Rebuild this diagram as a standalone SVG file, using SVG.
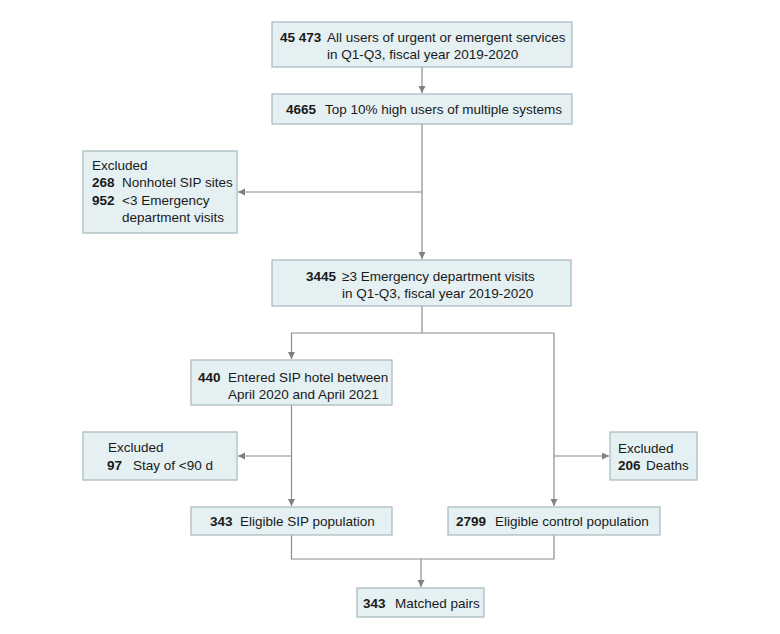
<svg xmlns="http://www.w3.org/2000/svg" width="780" height="634" viewBox="0 0 780 634">
<defs>
<marker id="ah" markerUnits="userSpaceOnUse" markerWidth="8" markerHeight="8" refX="7" refY="3.5" orient="auto">
<path d="M0,0 L7,3.5 L0,7 z" fill="#808080"/>
</marker>
<style>
.box{fill:#e4f0f2;stroke:#a6b8bc;stroke-width:1.2}
text{font-family:"Liberation Sans",Arial,sans-serif;font-size:13.5px;fill:#1a1a1a}
.b{font-weight:bold}
.ln{fill:none;stroke:#8c8c8c;stroke-width:1.2}
.ar{fill:none;stroke:#8c8c8c;stroke-width:1.2;marker-end:url(#ah)}
</style>
</defs>
<rect width="780" height="634" fill="#ffffff"/>
<g id="connectors">
<line class="ar" x1="422" y1="67" x2="422" y2="93"/>
<line class="ar" x1="422" y1="124" x2="422" y2="259"/>
<line class="ar" x1="422" y1="192" x2="238" y2="192"/>
<polyline class="ln" points="422,306 422,333"/>
<line class="ln" x1="291.5" y1="333" x2="554" y2="333"/>
<line class="ar" x1="291.5" y1="333" x2="291.5" y2="359"/>
<line class="ar" x1="554" y1="333" x2="554" y2="506"/>
<line class="ar" x1="291.5" y1="405" x2="291.5" y2="506"/>
<line class="ar" x1="291.5" y1="456" x2="238" y2="456"/>
<line class="ar" x1="554" y1="456" x2="609" y2="456"/>
<polyline class="ln" points="291.5,535 291.5,559 554,559 554,535"/>
<line class="ar" x1="421" y1="559" x2="421" y2="587"/>
</g>
<g id="n1">
<rect class="box" x="272" y="22" width="300" height="45"/>
<text x="280" y="42"><tspan class="b">45 473</tspan></text>
<text x="327" y="42">All users of urgent or emergent services</text>
<text x="327" y="59">in Q1-Q3, fiscal year 2019-2020</text>
</g>
<g id="n2">
<rect class="box" x="272" y="94" width="300" height="30"/>
<text x="286" y="114" class="b">4665</text>
<text x="325" y="114">Top 10% high users of multiple systems</text>
</g>
<g id="ex1">
<rect class="box" x="83" y="151" width="154" height="82"/>
<text x="92" y="170">Excluded</text>
<text x="92" y="187" class="b">268</text>
<text x="122" y="187">Nonhotel SIP sites</text>
<text x="92" y="205" class="b">952</text>
<text x="122" y="205">&lt;3 Emergency</text>
<text x="122" y="222">department visits</text>
</g>
<g id="n3">
<rect class="box" x="272" y="260" width="299" height="46"/>
<text x="306" y="281" class="b">3445</text>
<text x="342" y="281">≥3 Emergency department visits</text>
<text x="342" y="298">in Q1-Q3, fiscal year 2019-2020</text>
</g>
<g id="n4">
<rect class="box" x="191" y="360" width="201" height="45"/>
<text x="198" y="382" class="b">440</text>
<text x="228" y="382">Entered SIP hotel between</text>
<text x="228" y="399">April 2020 and April 2021</text>
</g>
<g id="ex2">
<rect class="box" x="83" y="432" width="154" height="48"/>
<text x="108" y="452">Excluded</text>
<text x="107" y="470" class="b">97</text>
<text x="133" y="470">Stay of &lt;90 d</text>
</g>
<g id="ex3">
<rect class="box" x="610" y="432" width="87" height="48"/>
<text x="618" y="453">Excluded</text>
<text x="618" y="470" class="b">206</text>
<text x="646" y="470">Deaths</text>
</g>
<g id="n5">
<rect class="box" x="191" y="507" width="201" height="28"/>
<text x="210" y="526" class="b">343</text>
<text x="240" y="526">Eligible SIP population</text>
</g>
<g id="n6">
<rect class="box" x="448" y="507" width="212" height="28"/>
<text x="456" y="526" class="b">2799</text>
<text x="495" y="526">Eligible control population</text>
</g>
<g id="n7">
<rect class="box" x="357" y="588" width="127" height="29"/>
<text x="363" y="608" class="b">343</text>
<text x="395" y="608">Matched pairs</text>
</g>
</svg>
